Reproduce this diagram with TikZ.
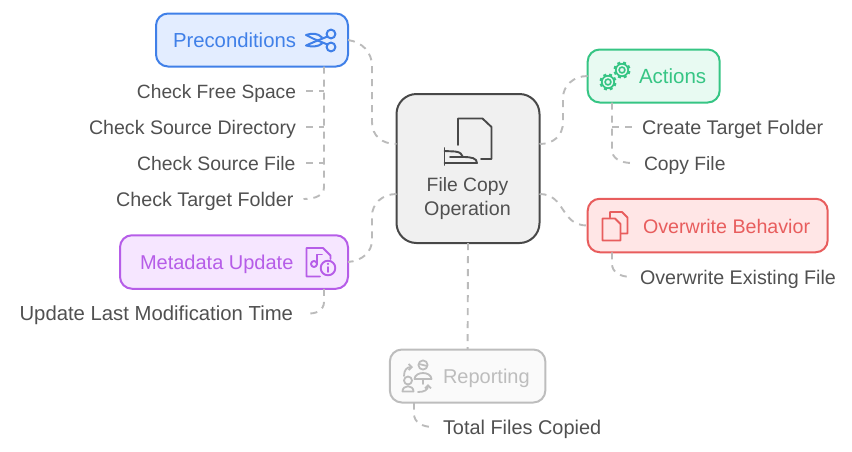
\documentclass[tikz,border=0pt]{standalone}
\usepackage{fontspec}
\setmainfont{Liberation Sans}
\usetikzlibrary{arrows.meta}
\definecolor{txt}{HTML}{505050}
\definecolor{conn}{HTML}{BBBBBB}
\definecolor{bS}{HTML}{4080E8}\definecolor{bF}{HTML}{E3EDFF}
\definecolor{gS}{HTML}{36C584}\definecolor{gF}{HTML}{E8FAF2}
\definecolor{rS}{HTML}{E85D5D}\definecolor{rF}{HTML}{FFE6E6}
\definecolor{pS}{HTML}{B65DE8}\definecolor{pF}{HTML}{F6E6FF}
\definecolor{yS}{HTML}{BDBDBD}\definecolor{yF}{HTML}{FAFAFA}
\definecolor{mS}{HTML}{484848}\definecolor{mF}{HTML}{F0F0F0}
\newcommand{\gearicon}[3]{%
  \draw[#3,line width=1.7pt] (#1,#2) circle[radius=6.2];
  \draw[#3,line width=1.6pt] (#1,#2) circle[radius=2.9];
  \foreach \a in {0,45,...,315}{\draw[#3,line width=3pt] (#1,#2) ++(\a+20:6.2) -- ++(\a+20:2.3);}
}
\tikzset{
  x=1pt,y=-1pt,
  box/.style={draw,rounded corners=12pt,line width=2pt,inner sep=0pt,outer sep=0pt},
  lab/.style={inner sep=0pt,outer sep=0pt,text height=14.3pt,text depth=0pt},
  fs/.style={font=\fontsize{#1}{23}\selectfont},
  leaf/.style={lab,text=txt},
  cline/.style={draw=conn,line width=1.9pt,dash pattern=on 7pt off 6pt},
  ic/.style={line width=1.9pt,line join=round,line cap=round}
}
\begin{document}
\begin{tikzpicture}
\useasboundingbox (0,0) rectangle (852,451);
% boxes
\node[box,draw=mS,fill=mF,rounded corners=20pt,minimum width=143pt,minimum height=149pt] (main) at (468,168.5) {};
\node[box,draw=bS,fill=bF,minimum width=192pt,minimum height=53pt] (pre) at (252,40) {};
\node[box,draw=gS,fill=gF,minimum width=132pt,minimum height=53pt] (act) at (653.7,76) {};
\node[box,draw=rS,fill=rF,minimum width=240pt,minimum height=53.5pt] (ovr) at (707.7,225.5) {};
\node[box,draw=pS,fill=pF,minimum width=228pt,minimum height=53.5pt] (met) at (234,262) {};
\node[box,draw=yS,fill=yF,minimum width=155.5pt,minimum height=53pt] (rep) at (467.6,376) {};
% titles
\node[lab,fs=20.3,text=bS,anchor=west] (tpre) at (173,40) {Preconditions};
\node[lab,fs=20.5,text=gS,anchor=west] (tact) at (639,76) {Actions};
\node[lab,fs=19.65,text=rS,anchor=west] (tovr) at (643,226) {Overwrite Behavior};
\node[lab,fs=20,text=pS,anchor=west] (tmet) at (140,262) {Metadata Update};
\node[lab,fs=20,text=yS,anchor=west] (trep) at (443,376) {Reporting};
\node[leaf,fs=19.3] (tm1) at (467.5,184) {File Copy};
\node[leaf,fs=19.7] (tm2) at (467.5,208) {Operation};
% leaves
\node[leaf,fs=19.2,anchor=east] (l1) at (296,91) {Check Free Space};
\node[leaf,fs=19.6,anchor=east] (l2) at (296,127) {Check Source Directory};
\node[leaf,fs=19.4,anchor=east] (l3) at (295.5,163) {Check Source File};
\node[leaf,fs=19.7,anchor=east] (l4) at (293.5,199) {Check Target Folder};
\node[leaf,fs=19.75,anchor=west] (a1) at (642,127) {Create Target Folder};
\node[leaf,fs=19.3,anchor=west] (a2) at (644,163) {Copy File};
\node[leaf,fs=19.7,anchor=west] (o1) at (640,277) {Overwrite Existing File};
\node[leaf,fs=20.3,anchor=east] (m1) at (293,313) {Update Last Modification Time};
\node[leaf,fs=19.9,anchor=west] (r1) at (443,427) {Total Files Copied};
% named connector points
\coordinate (mL1) at (main.west |- 0,144);
\coordinate (mL2) at (main.west |- 0,194);
\coordinate (mR1) at (main.east |- 0,144);
\coordinate (mR2) at (main.east |- 0,194);
\coordinate (preB) at (324,0 |- pre.south);
\coordinate (actB) at (612,0 |- act.south);
\coordinate (ovrB) at (612,0 |- ovr.south);
\coordinate (metB) at (324,0 |- met.south);
\coordinate (repB) at (414,0 |- rep.south);
% connectors
\draw[cline] (pre.east) .. controls (362,42) and (372,52) .. (372,66) -- (372,122) .. controls (372,136) and (382,144) .. (mL1);
\draw[cline] (mL2) .. controls (382,194) and (372,204) .. (372,216) -- (372,240) .. controls (372,252) and (362,261) .. (met.east);
\draw[cline] (act.west) .. controls (573,76) and (563,86) .. (563,98) -- (563,122) .. controls (563,136) and (553,144) .. (mR1);
\draw[cline] (mR2) .. controls (566,194) and (560,226) .. (ovr.west);
\draw[cline] (main.south) -- (rep.north);
\draw[cline] (preB) -- (324,187) .. controls (324,195) and (316,199) .. ([xshift=10pt]l4.east);
\draw[cline] ([xshift=10pt]l1.east) -- (324,91);
\draw[cline] ([xshift=10pt]l2.east) -- (324,127);
\draw[cline] ([xshift=10.5pt]l3.east) -- (324,163);
\draw[cline] (actB) -- (612,150) .. controls (612,158) and (620,163) .. ([xshift=-12pt]a2.west);
\draw[cline] (612,127) -- ([xshift=-10pt]a1.west);
\draw[cline] (ovrB) -- (612,264) .. controls (612,272) and (620,277) .. ([xshift=-8pt]o1.west);
\draw[cline] (metB) -- (324,302) .. controls (324,310) and (316,315) .. ([xshift=12pt]m1.east);
\draw[cline] (repB) -- (414,414) .. controls (414,422) and (422,427) .. ([xshift=-10pt]r1.west);
% main icon
\begin{scope}[ic,draw=mS]
\draw (458,145) -- (458,118.5) -- (482.5,118.5) -- (491.5,127) -- (491.5,159) -- (481,159);
\draw (444.5,148) -- (444.5,165);
\draw (444.5,151) -- (455,151.5) .. controls (460,152) and (462,154) .. (463,157) -- (450,157);
\draw (463,157) .. controls (471,157) and (477,158) .. (477,163) -- (444.5,163);
\end{scope}
% scissors
\begin{scope}[ic,draw=bS,line width=2pt]
\draw (331,34) circle[radius=4.4];
\draw (331,47) circle[radius=4.4];
\draw (327.5,36.5) -- (314,42) -- (306,45.5) .. controls (312,47) and (318,47) .. (322,43.5);
\draw (327.5,44.5) -- (314,39) -- (306,35) .. controls (312,33) and (318,33) .. (322,37.5);
\end{scope}
% gears
\gearicon{622}{70}{gS}
\gearicon{608}{82}{gS}
% overwrite docs
\begin{scope}[ic,draw=rS]
\draw (610,217.5) -- (610,212) -- (622,212) -- (627.5,217.5) -- (627.5,233.5) -- (621,233.5);
\draw[fill=rF] (602.5,218.5) -- (615,218.5) -- (620.5,224) -- (620.5,240.5) -- (602.5,240.5) -- cycle;
\end{scope}
% metadata icon
\begin{scope}[ic,draw=pS]
\draw (320,276.5) -- (306.5,276.5) -- (306.5,248) -- (323,248) -- (330.5,255.5) -- (330.5,259);
\draw (314,264) circle[radius=3];
\draw (317,264) -- (317,254.5) -- (322,254.5);
\draw[fill=pF] (328,268) circle[radius=7.3];
\draw (328,271.8) -- (328,267);
\fill[pS] (328,263.8) circle[radius=1.2];
\end{scope}
% reporting icon
\begin{scope}[ic,draw=yS,line width=1.8pt]
\draw (423,365) circle[radius=4.6];
\draw (419,364) -- (427,366);
\draw (414.5,379) .. controls (415,371) and (431,371) .. (431.5,379) -- cycle;
\draw (423,379) -- (423,384);
\draw (408,380.5) circle[radius=4];
\draw (402.5,391.5) .. controls (402.5,384.5) and (413.5,384.5) .. (413.5,391.5) -- cycle;
\draw[-{Straight Barb[length=3pt,width=6pt]}] (404,376) .. controls (404,370) and (407,367) .. (413,367);
\draw[-{Straight Barb[length=3pt,width=6pt]}] (418,392) .. controls (424,392) and (428,390) .. (428,384);
\end{scope}
\end{tikzpicture}
\end{document}
